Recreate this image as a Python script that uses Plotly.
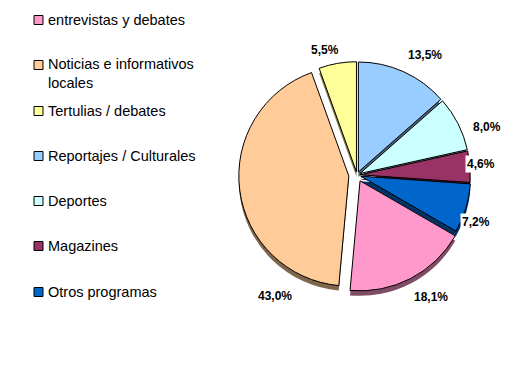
import plotly.graph_objects as go

categories = ["entrevistas y debates", "Noticias e informativos<br>locales", "Tertulias / debates",
              "Reportajes / Culturales", "Deportes", "Magazines", "Otros programas"]
values = [18.1, 43.0, 5.5, 13.5, 8.0, 4.6, 7.2]
colors = ["#FF99CC", "#FFCC99", "#FFFF99", "#99CCFF", "#CCFFFF", "#993366", "#0066CC"]
pulls = [0.06, 0.075, 0.03, 0.03, 0.03, 0.03, 0.035]
legend_y = [20, 73, 111, 156, 201, 246, 292]
label_x = [431, 275, 325, 425, 487, 481, 476]
label_y = [297, 296, 50, 55, 127, 164, 222]
label_bg = [None, None, None, None, None, "white", "white"]

W, H = 530, 365
PAGE_MARGIN = 8
CX, CY, R = 357, 175, 110
SHADOW = 5


def px(x):
    return (x - PAGE_MARGIN) / W


def py(y):
    return 1 - (y - PAGE_MARGIN) / H


def darken(c):
    return "#" + "".join(f"{int(c[i:i+2], 16) // 2:02X}" for i in (1, 3, 5))


def domain(dy=0):
    size = R * (1 + max(pulls))
    return dict(x=[px(CX - size), px(CX + size)], y=[py(CY + dy + size), py(CY + dy - size)])


rot = 360 * sum(values[3:]) / sum(values)
common = dict(values=values, labels=categories, sort=False, direction="clockwise", rotation=rot,
              pull=pulls, textinfo="none", showlegend=False, hoverinfo="label+percent")

fig = go.Figure()
fig.add_trace(go.Pie(domain=domain(SHADOW), marker=dict(colors=[darken(c) for c in colors],
                                                        line=dict(width=0)), **common))
fig.add_trace(go.Pie(domain=domain(), marker=dict(colors=colors, line=dict(color="black", width=1)), **common))

shapes, annos = [], []
for name, col, y in zip(categories, colors, legend_y):
    sy = y - 8 if "<br>" in name else y
    shapes.append(dict(type="rect", xref="paper", yref="paper", x0=px(34), x1=px(43),
                       y0=py(sy + 4.5), y1=py(sy - 4.5), fillcolor=col, line=dict(color="black", width=1)))
    annos.append(dict(x=px(46.5), y=py(y), xref="paper", yref="paper", text=name, showarrow=False,
                      xanchor="left", yanchor="middle", align="left", borderpad=0,
                      font=dict(family="Liberation Sans", size=14.5, color="black")))

for v, x, y, bg in zip(values, label_x, label_y, label_bg):
    annos.append(dict(x=px(x), y=py(y), xref="paper", yref="paper",
                      text=f"<b>{v:.1f}%</b>".replace(".", ","), showarrow=False,
                      xanchor="center", yanchor="middle", bgcolor=bg, borderpad=1,
                      font=dict(family="Liberation Sans", size=12, color="black")))

fig.update_layout(width=W, height=H, margin=dict(l=0, r=0, t=0, b=0), paper_bgcolor="white",
                  plot_bgcolor="white", shapes=shapes, annotations=annos, showlegend=False)
fig.write_html("out.html", config=dict(displayModeBar=False))
